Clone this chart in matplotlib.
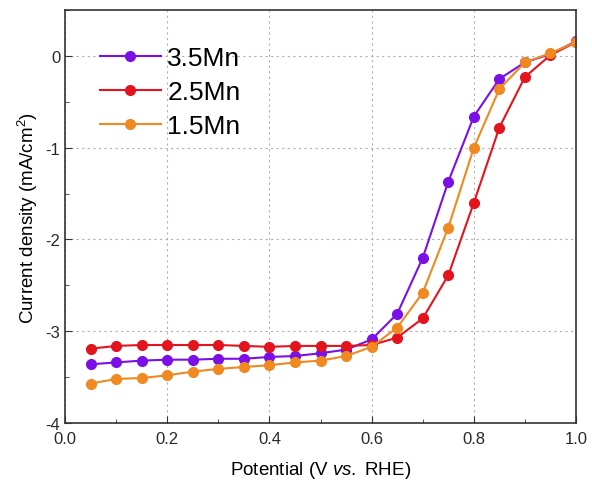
import matplotlib
matplotlib.use('Agg')
import matplotlib.pyplot as plt
import numpy as np
from matplotlib.ticker import MultipleLocator

plt.rcParams['font.family'] = ['Liberation Sans', 'DejaVu Sans']
plt.rcParams['axes.unicode_minus'] = False
plt.rcParams['mathtext.fontset'] = 'custom'
plt.rcParams['mathtext.rm'] = 'Liberation Sans'
plt.rcParams['mathtext.it'] = 'Liberation Sans:italic'

potential = [0.05, 0.10, 0.15, 0.20, 0.25, 0.30, 0.35, 0.40, 0.45, 0.50,
             0.55, 0.60, 0.65, 0.70, 0.75, 0.80, 0.85, 0.90, 0.95, 1.00]

mn35 = [-3.36, -3.34, -3.32, -3.31, -3.31, -3.30, -3.30, -3.28, -3.27, -3.24,
        -3.20, -3.09, -2.81, -2.20, -1.37, -0.66, -0.25, -0.07, 0.02, 0.16]
mn25 = [-3.19, -3.16, -3.15, -3.15, -3.15, -3.15, -3.16, -3.17, -3.16, -3.16,
        -3.16, -3.15, -3.07, -2.86, -2.39, -1.60, -0.78, -0.23, 0.01, 0.15]
mn15 = [-3.57, -3.52, -3.51, -3.48, -3.44, -3.41, -3.39, -3.37, -3.34, -3.32,
        -3.27, -3.17, -2.96, -2.58, -1.87, -1.00, -0.36, -0.07, 0.03, 0.15]

labels = ['3.5Mn', '2.5Mn', '1.5Mn']
colors = ['#7A10E6', '#E3141E', '#F0891F']

fig = plt.figure(figsize=(5.92, 4.81), dpi=100)
ax = fig.add_axes([0.110, 0.1185, 0.863, 0.8585])

for y, lab, c in zip([mn35, mn25, mn15], labels, colors):
    ax.plot(potential, y, '-o', color=c, lw=1.5, ms=7, mec=c, label=lab)

ax.set_xlim(0, 1.0)
ax.set_ylim(-4, 0.5)
ax.xaxis.set_minor_locator(MultipleLocator(0.1))
ax.yaxis.set_minor_locator(MultipleLocator(0.5))
ax.set_xticks([0.0, 0.2, 0.4, 0.6, 0.8, 1.0])
ax.set_xticklabels(['0.0', '0.2', '0.4', '0.6', '0.8', '1.0'])
ax.set_yticks([0, -1, -2, -3, -4])
ax.set_yticklabels(['0', '-1', '-2', '-3', '-4'])
ax.tick_params(which='both', direction='in', labelsize=12, color='#333333',
               labelcolor='#2a2a2a')
ax.tick_params(axis='x', pad=6)
ax.tick_params(which='major', length=5)
ax.tick_params(which='minor', length=3)
ax.grid(True, which='major', ls=(0, (2, 3)), color='#b0b0b0', lw=0.8)
for s in ax.spines.values():
    s.set_linewidth(1.2)
    s.set_color('#333333')

ax.set_xlabel('Potential (V $\\it{vs.}$ RHE)', fontsize=13.5, labelpad=9)
ax.set_ylabel('Current density (mA/cm$^2$)', fontsize=13.5, labelpad=4)

ax.legend(loc='upper left', bbox_to_anchor=(0.022, 0.97), frameon=False,
          fontsize=19, handlelength=2.3, handletextpad=0.25, labelspacing=0.38)

fig.savefig('out.png', dpi=100)
